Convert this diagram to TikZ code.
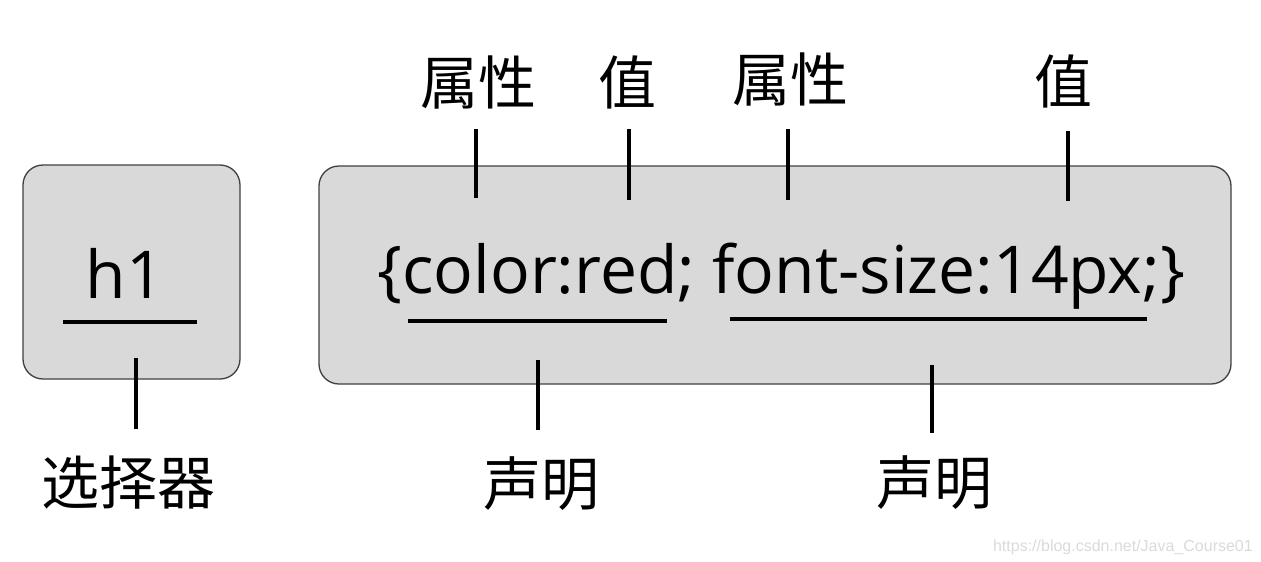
\documentclass[tikz,border=0pt]{standalone}
\usepackage{fontspec}
\setmainfont{Open Sans}
\newfontfamily\cjk{Noto Sans CJK SC}
\newfontfamily\wmfont{Liberation Sans}
\definecolor{boxfill}{HTML}{D9D9D9}
\definecolor{boxline}{HTML}{404040}
\definecolor{wmgray}{HTML}{DADADA}
\begin{document}
\begin{tikzpicture}[x=1pt,y=-1pt,
  box/.style={draw=boxline, line width=1.3pt, fill=boxfill, rounded corners=20pt},
  tick/.style={line width=4pt},
  uline/.style={line width=4pt},
  lbl/.style={font=\cjk\fontsize{58}{58}\selectfont, inner sep=0pt},
  code/.style={font=\fontsize{66}{66}\selectfont, inner sep=0pt}]
\useasboundingbox (0,0) rectangle (1261,562);
% boxes
\draw[box] (23,165) rectangle (240,379);
\draw[box] (319,166) rectangle (1231,384);
% code texts
\node[code, anchor=base] (h1) at (125,298) {h1};
\node[code, anchor=base west] (css) at (377,293) {\{color:red; font-size:14px;\}};
% underlines
\coordinate (u1a) at (63,322);  \coordinate (u1b) at (197,322);
\coordinate (u2a) at (408,321); \coordinate (u2b) at (667,321);
\coordinate (u3a) at (730,319); \coordinate (u3b) at (1147,319);
\draw[uline] (u1a) -- (u1b);
\draw[uline] (u2a) -- (u2b);
\draw[uline] (u3a) -- (u3b);
% labels
\node[lbl] (p1) at (478,82) {属性};
\node[lbl] (v1) at (627,82) {值};
\node[lbl] (p2) at (790,79) {属性};
\node[lbl] (v2) at (1063,81) {值};
\node[lbl] (sel) at (128,483) {选择器};
\node[lbl] (d1) at (541,484) {声明};
\node[lbl] (d2) at (934,483) {声明};
% tick coordinates
\coordinate (t1a) at (476,129);  \coordinate (t1b) at (476,198);
\coordinate (t2a) at (629,129);  \coordinate (t2b) at (629,200);
\coordinate (t3a) at (788,129);  \coordinate (t3b) at (788,200);
\coordinate (t4a) at (1068,131); \coordinate (t4b) at (1068,201);
\coordinate (t5a) at (136,358);  \coordinate (t5b) at (136,429);
\coordinate (t6a) at (538,360);  \coordinate (t6b) at (538,430);
\coordinate (t7a) at (932,365);  \coordinate (t7b) at (932,433);
\foreach \i in {1,...,7} {\draw[tick] (t\i a) -- (t\i b);}
% watermark
\node[font=\wmfont\fontsize{16}{16}\selectfont, text=wmgray, anchor=base east, inner sep=0pt] (wm) at (1253,551) {https://blog.csdn.net/Java\_Course01};
\end{tikzpicture}
\end{document}
